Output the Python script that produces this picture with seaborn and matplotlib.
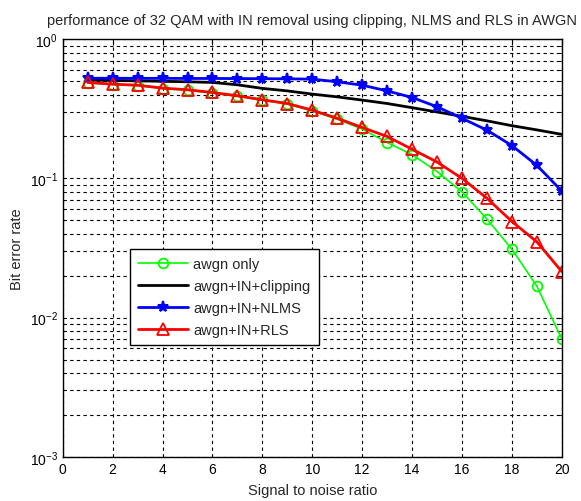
import numpy as np
import pandas as pd
import matplotlib
matplotlib.use("Agg")
from matplotlib import pyplot as plt
from matplotlib.ticker import LogLocator, NullFormatter, MultipleLocator
import seaborn as sns

snr = list(range(1, 21))

ber_awgn = [0.485, 0.472, 0.463, 0.442, 0.430, 0.411, 0.389, 0.364, 0.342, 0.305,
            0.266, 0.226, 0.181, 0.148, 0.112, 0.080, 0.051, 0.031, 0.0168, 0.0070]
ber_clip = [0.508, 0.505, 0.502, 0.498, 0.494, 0.489, 0.470, 0.443, 0.425, 0.403,
            0.385, 0.365, 0.345, 0.322, 0.300, 0.279, 0.259, 0.239, 0.223, 0.207]
ber_nlms = [0.524, 0.524, 0.523, 0.523, 0.522, 0.522, 0.521, 0.520, 0.519, 0.516,
            0.494, 0.467, 0.425, 0.381, 0.327, 0.270, 0.222, 0.172, 0.124, 0.081]
ber_rls = [0.489, 0.475, 0.467, 0.445, 0.433, 0.414, 0.392, 0.367, 0.345, 0.309,
           0.270, 0.232, 0.200, 0.162, 0.131, 0.100, 0.072, 0.049, 0.035, 0.0214]

labels = ["awgn only", "awgn+IN+clipping", "awgn+IN+NLMS", "awgn+IN+RLS"]

df = pd.DataFrame({
    "snr": snr * 4,
    "ber": ber_awgn + ber_clip + ber_nlms + ber_rls,
    "series": sum([[l] * len(snr) for l in labels], []),
})

sns.set_style("white")
plt.rcParams["font.family"] = ["Liberation Sans", "DejaVu Sans"]

fig = plt.figure(figsize=(5.81, 5.02), dpi=100)
ax = fig.add_axes([0.108, 0.088, 0.859, 0.832])

# seaborn defaults marker edges to white, so give every style its own edge colour
styles = {
    "awgn only": dict(color="#00ff00", marker="o", markersize=7, linewidth=1.2,
                      markerfacecolor="none", markeredgecolor="#00ff00",
                      markeredgewidth=1.3),
    "awgn+IN+clipping": dict(color="black", linewidth=2),
    "awgn+IN+NLMS": dict(color="blue", marker="*", markersize=8, linewidth=2,
                         markerfacecolor="blue", markeredgecolor="blue",
                         markeredgewidth=1.5),
    "awgn+IN+RLS": dict(color="red", marker="^", markersize=8, linewidth=2,
                        markerfacecolor="none", markeredgecolor="red",
                        markeredgewidth=1.3),
}

for name in labels:
    sub = df[df["series"] == name]
    sns.lineplot(data=sub, x="snr", y="ber", ax=ax, label=name,
                 linestyle="-", **styles[name])

ax.set_yscale("log")
ax.set_xlim(0, 20)
ax.set_ylim(1e-3, 1)
ax.xaxis.set_major_locator(MultipleLocator(2))
ax.yaxis.set_major_locator(LogLocator(base=10, numticks=10))
ax.yaxis.set_minor_locator(LogLocator(base=10, subs=np.arange(2, 10), numticks=10))
ax.yaxis.set_minor_formatter(NullFormatter())

ax.grid(True, which="major", color="black", linestyle=(0, (3, 3)), linewidth=0.8)
ax.grid(True, which="minor", axis="y", color="black", linestyle=(0, (3, 3)), linewidth=0.8)
ax.tick_params(which="both", direction="in", top=True, right=True, labelsize=10, colors="black")
ax.tick_params(which="major", length=4)
ax.tick_params(which="minor", length=2)
for sp in ax.spines.values():
    sp.set_color("black")
    sp.set_linewidth(1)

ax.set_title("performance of 32 QAM with IN removal using clipping, NLMS and RLS in AWGN",
             fontsize=10.5, pad=11)
ax.set_xlabel("Signal to noise ratio", fontsize=10.5, labelpad=5)
ax.set_ylabel("Bit error rate", fontsize=10.5)

leg = ax.legend(loc="lower left", bbox_to_anchor=(0.12, 0.25), fontsize=10.5,
                frameon=True, fancybox=False, edgecolor="black", framealpha=1,
                borderpad=0.55, handlelength=3.4, handletextpad=0.4,
                labelspacing=0.55)
leg.get_frame().set_linewidth(1)

fig.savefig("out.png", dpi=100)
